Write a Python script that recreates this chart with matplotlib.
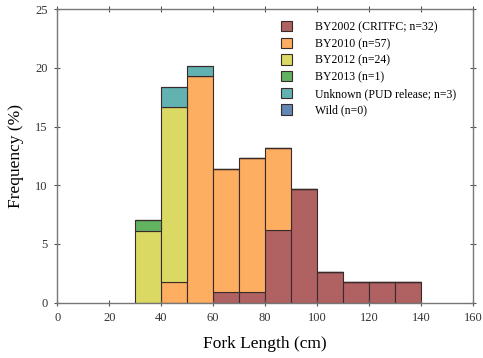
import numpy as np
import matplotlib
matplotlib.use("Agg")
import matplotlib.pyplot as plt

plt.rcParams["font.family"] = ["Liberation Serif", "DejaVu Serif"]

# bin left edges (cm), width 10
bin_edges = [30, 40, 50, 60, 70, 80, 90, 100, 110, 120, 130]

# percent of fish per bin, by group (stacked bottom to top)
by2002 = [0, 0, 0, 0.88, 0.88, 6.17, 9.65, 2.63, 1.75, 1.75, 1.75]
by2010 = [0, 1.75, 19.3, 10.53, 11.4, 7.02, 0, 0, 0, 0, 0]
by2012 = [6.14, 14.91, 0, 0, 0, 0, 0, 0, 0, 0, 0]
by2013 = [0.88, 0, 0, 0, 0, 0, 0, 0, 0, 0, 0]
unknown = [0, 1.75, 0.88, 0, 0, 0, 0, 0, 0, 0, 0]
wild = [0, 0, 0, 0, 0, 0, 0, 0, 0, 0, 0]

labels = ["BY2002 (CRITFC; n=32)", "BY2010 (n=57)", "BY2012 (n=24)",
          "BY2013 (n=1)", "Unknown (PUD release; n=3)", "Wild (n=0)"]
colors = ["#b06262", "#fdae60", "#d9d964", "#62b262", "#62b2b2", "#6287b2"]
series = [by2002, by2010, by2012, by2013, unknown, wild]

fig = plt.figure(figsize=(4.83, 3.58), dpi=100)
ax = fig.add_axes([0.119, 0.1545, 0.860, 0.820])

bottom = np.zeros(len(bin_edges))
for vals, col, lab in zip(series, colors, labels):
    vals = np.array(vals)
    ax.bar(bin_edges, vals, width=10, align="edge", bottom=bottom,
           color=col, edgecolor="#3a2a2a", linewidth=0.8, label=lab)
    bottom += vals

ax.set_xlim(0, 160)
ax.set_ylim(0, 25)
ax.set_xticks(range(0, 161, 20))
ax.set_yticks(range(0, 26, 5))
ax.tick_params(direction="inout", length=4, width=0.8, color="#555555",
               labelsize=9, labelcolor="#333333", top=True, right=True, pad=5)
for s in ax.spines.values():
    s.set_color("#777777")
    s.set_linewidth(1.0)

ax.set_xlabel("Fork Length (cm)", fontsize=12.5, labelpad=8)
ax.set_ylabel("Frequency (%)", fontsize=12.5, labelpad=8)

ax.legend(loc="upper right", frameon=False, fontsize=8.5, handlelength=0.95,
          handleheight=0.95, handletextpad=1.9, labelspacing=0.38,
          bbox_to_anchor=(0.985, 0.995))

fig.savefig("out.png", dpi=100)
